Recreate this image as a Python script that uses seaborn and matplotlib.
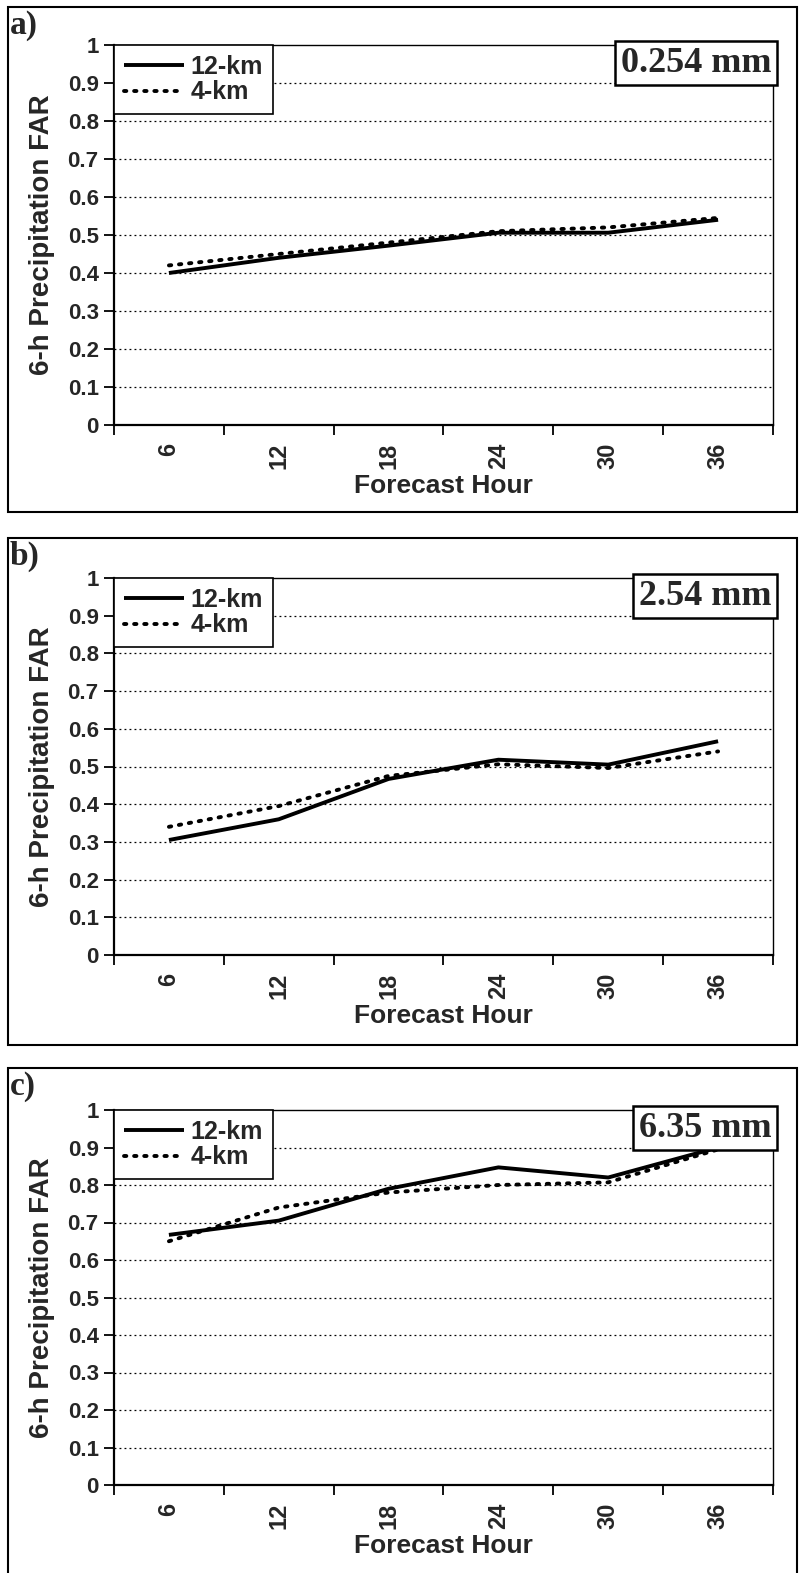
import numpy as np
import pandas as pd
import matplotlib
matplotlib.use("Agg")
import matplotlib.pyplot as plt
from matplotlib.patches import Rectangle
from matplotlib.offsetbox import AnchoredText
import seaborn as sns

sns.set_style("white")
plt.rcParams['font.family'] = ['Liberation Sans', 'DejaVu Sans']

hours = [6, 12, 18, 24, 30, 36]
panel_labels = ["a)", "b)", "c)"]
thresholds = ["0.254 mm", "2.54 mm", "6.35 mm"]
series_names = ["12-km", "4-km"]

a_12km = [0.40, 0.44, 0.472, 0.506, 0.506, 0.54]
a_4km = [0.42, 0.45, 0.48, 0.51, 0.52, 0.545]
b_12km = [0.305, 0.36, 0.467, 0.518, 0.505, 0.567]
b_4km = [0.34, 0.395, 0.475, 0.506, 0.496, 0.54]
c_12km = [0.667, 0.705, 0.79, 0.847, 0.82, 0.90]
c_4km = [0.65, 0.74, 0.78, 0.80, 0.807, 0.895]

panels = [(a_12km, a_4km), (b_12km, b_4km), (c_12km, c_4km)]

W, H = 799, 1573
fig = plt.figure(figsize=(W / 100, H / 100), dpi=100)

# axes pixel boxes: left, right, top, bottom
ax_boxes = [(114, 773, 45, 425), (114, 773, 578, 955), (114, 773, 1110, 1485)]
frame_boxes = [(8, 797, 7, 512), (8, 797, 538, 1045), (8, 797, 1068, 1580)]
label_pos = [(10, 10), (10, 541), (10, 1071)]

for i, (s12, s4) in enumerate(panels):
    l, r, t, b = ax_boxes[i]
    ax = fig.add_axes([l / W, 1 - b / H, (r - l) / W, (b - t) / H])
    df = pd.DataFrame({
        "hour": hours * 2,
        "FAR": list(s12) + list(s4),
        "model": [series_names[0]] * len(hours) + [series_names[1]] * len(hours),
    })
    sns.lineplot(data=df, x="hour", y="FAR", style="model", color="black",
                 dashes={"12-km": "", "4-km": (0.6, 2.0)}, linewidth=2.8,
                 ax=ax, legend=True)
    for ln in ax.get_lines():
        ln.set_dash_capstyle("round")
        ln.set_solid_capstyle("butt")
    ax.set_xlim(3, 39)
    ax.set_ylim(0, 1)
    ax.set_yticks(np.arange(0, 1.01, 0.1))
    ax.set_yticklabels([f"{v:g}" for v in np.round(np.arange(0, 1.01, 0.1), 1)],
                       fontsize=16, fontweight="bold")
    ax.set_xticks(hours)
    ax.set_xticklabels([str(h) for h in hours], rotation=90, fontsize=17,
                       fontweight="bold")
    ax.set_xticks(np.arange(3, 40, 6), minor=True)
    ax.tick_params(axis="x", which="major", length=0, pad=13)
    ax.tick_params(axis="x", which="minor", length=7, width=1.3, color="black",
                   direction="out", bottom=True)
    ax.tick_params(axis="y", which="major", length=7, width=1.3, color="black",
                   direction="out", left=True, pad=4)
    for yv in np.arange(0.1, 0.95, 0.1):
        ax.axhline(yv, color="black", lw=0.9, ls=(0, (1.5, 2.5)), zorder=0)
    for sp in ["left", "bottom"]:
        ax.spines[sp].set_color("black")
        ax.spines[sp].set_linewidth(1.6)
    for sp in ["top", "right"]:
        ax.spines[sp].set_color("black")
        ax.spines[sp].set_linewidth(1.0)
    ax.set_xlabel("Forecast Hour", fontsize=19, fontweight="bold", labelpad=3)
    ax.set_ylabel("6-h Precipitation FAR", fontsize=20, fontweight="bold",
                  labelpad=9)
    handles, labels = ax.get_legend_handles_labels()
    leg = ax.legend(handles, labels, loc="upper left", bbox_to_anchor=(0, 1),
                    borderaxespad=0, frameon=True, fancybox=False,
                    framealpha=1, edgecolor="black", handlelength=2.4,
                    handletextpad=0.25, labelspacing=0.05, borderpad=0.4,
                    prop={"weight": "bold", "size": 18})
    leg.get_frame().set_linewidth(1.2)
    at = AnchoredText(thresholds[i], loc="upper right", borderpad=0, pad=0.05,
                      frameon=True,
                      prop={"family": "Liberation Serif", "weight": "bold",
                            "size": 26})
    at.patch.set_edgecolor("black")
    at.patch.set_linewidth(1.8)
    at.patch.set_boxstyle("square,pad=0.1")
    ax.add_artist(at)

    fl, fr, ft, fb = frame_boxes[i]
    fig.patches.append(Rectangle((fl / W, 1 - fb / H), (fr - fl) / W, (fb - ft) / H,
                                 transform=fig.transFigure, fill=False,
                                 edgecolor="black", linewidth=1.5))
    lx, ly = label_pos[i]
    fig.text(lx / W, 1 - ly / H, panel_labels[i], ha="left", va="top",
             fontsize=24, fontweight="bold", family="Liberation Serif")

fig.savefig("out.png", dpi=100)
